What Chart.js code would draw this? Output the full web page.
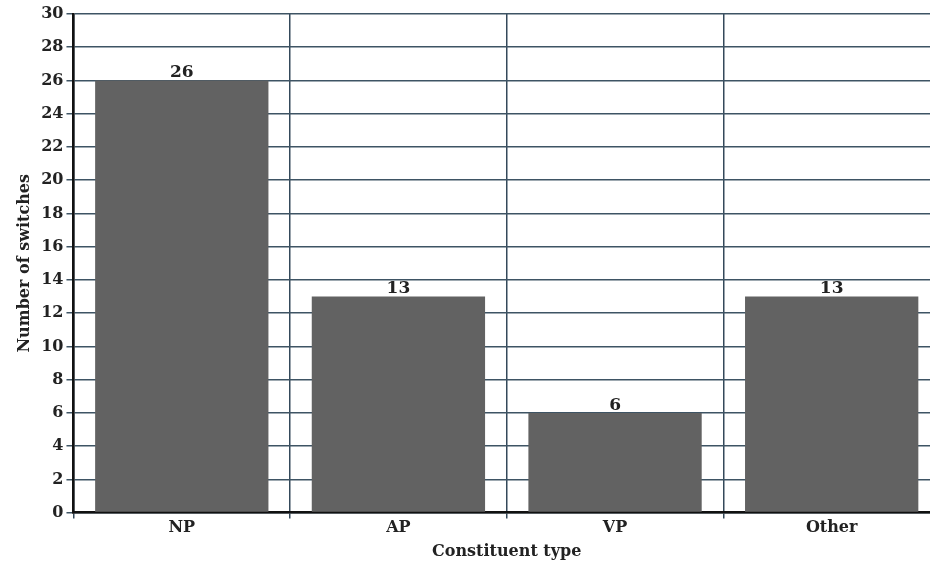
<!DOCTYPE html>
<html>
<head>
    <meta charset="utf-8">
    <title>Switches by constituent type</title>
    <script src="https://cdn.jsdelivr.net/npm/chart.js@4.4.0/dist/chart.umd.min.js"></script>
    <style>
        html, body { margin: 0; padding: 0; background: #fff; overflow: hidden; }
        #wrap { width: 940px; height: 564px; }
    </style>
</head>
<body>
    <div id="wrap"><canvas id="myChart"></canvas></div>
    <script>
        // data
        const categories = ['NP', 'AP', 'VP', 'Other'];
        const switches = [26, 13, 6, 13];
        const yTicks = [0, 2, 4, 6, 8, 10, 12, 14, 16, 18, 20, 22, 24, 26, 28, 30];

        const serif = '"DejaVu Serif", "Liberation Serif", serif';

        // value labels over the bars
        const barLabels = {
            id: 'barLabels',
            afterDatasetsDraw(chart) {
                const ctx = chart.ctx;
                const meta = chart.getDatasetMeta(0);
                ctx.save();
                ctx.font = 'bold 17px ' + serif;
                ctx.fillStyle = '#222';
                ctx.textAlign = 'center';
                ctx.textBaseline = 'bottom';
                meta.data.forEach(function (bar, i) {
                    ctx.fillText(String(switches[i]), bar.x, bar.y + 1);
                });
                ctx.restore();
            }
        };

        const config = {
            type: 'bar',
            data: {
                labels: categories,
                datasets: [{
                    data: switches,
                    backgroundColor: '#626262',
                    borderWidth: 0,
                    barPercentage: 0.8,
                    categoryPercentage: 1.0
                }]
            },
            options: {
                responsive: true,
                maintainAspectRatio: false,
                animation: false,
                layout: { padding: { top: 14, right: 0, left: 15, bottom: 3 } },
                plugins: {
                    legend: { display: false },
                    tooltip: { enabled: false }
                },
                scales: {
                    x: {
                        grid: {
                            offset: true,
                            color: '#34495a',
                            lineWidth: 1.5,
                            tickLength: 6
                        },
                        border: { color: '#111', width: 2.5 },
                        ticks: {
                            color: '#222',
                            font: { family: serif, size: 16, weight: 'bold' },
                            padding: 0
                        },
                        title: {
                            display: true,
                            text: 'Constituent type',
                            color: '#222',
                            font: { family: serif, size: 16, weight: 'bold' },
                            padding: { top: 4, bottom: 0 }
                        }
                    },
                    y: {
                        min: 0,
                        max: 30,
                        afterBuildTicks(scale) {
                            scale.ticks = yTicks.map(v => ({ value: v }));
                        },
                        grid: {
                            color: '#3e5464',
                            lineWidth: 1.5,
                            tickLength: 7
                        },
                        border: { color: '#111', width: 2.5 },
                        ticks: {
                            color: '#222',
                            font: { family: serif, size: 16, weight: 'bold' },
                            padding: 3
                        },
                        title: {
                            display: true,
                            text: 'Number of switches',
                            color: '#222',
                            font: { family: serif, size: 16, weight: 'bold' },
                            padding: { top: 0, bottom: 4 }
                        }
                    }
                }
            },
            plugins: [barLabels]
        };

        const myChart = new Chart(document.getElementById('myChart'), config);
    </script>
</body>
</html>
